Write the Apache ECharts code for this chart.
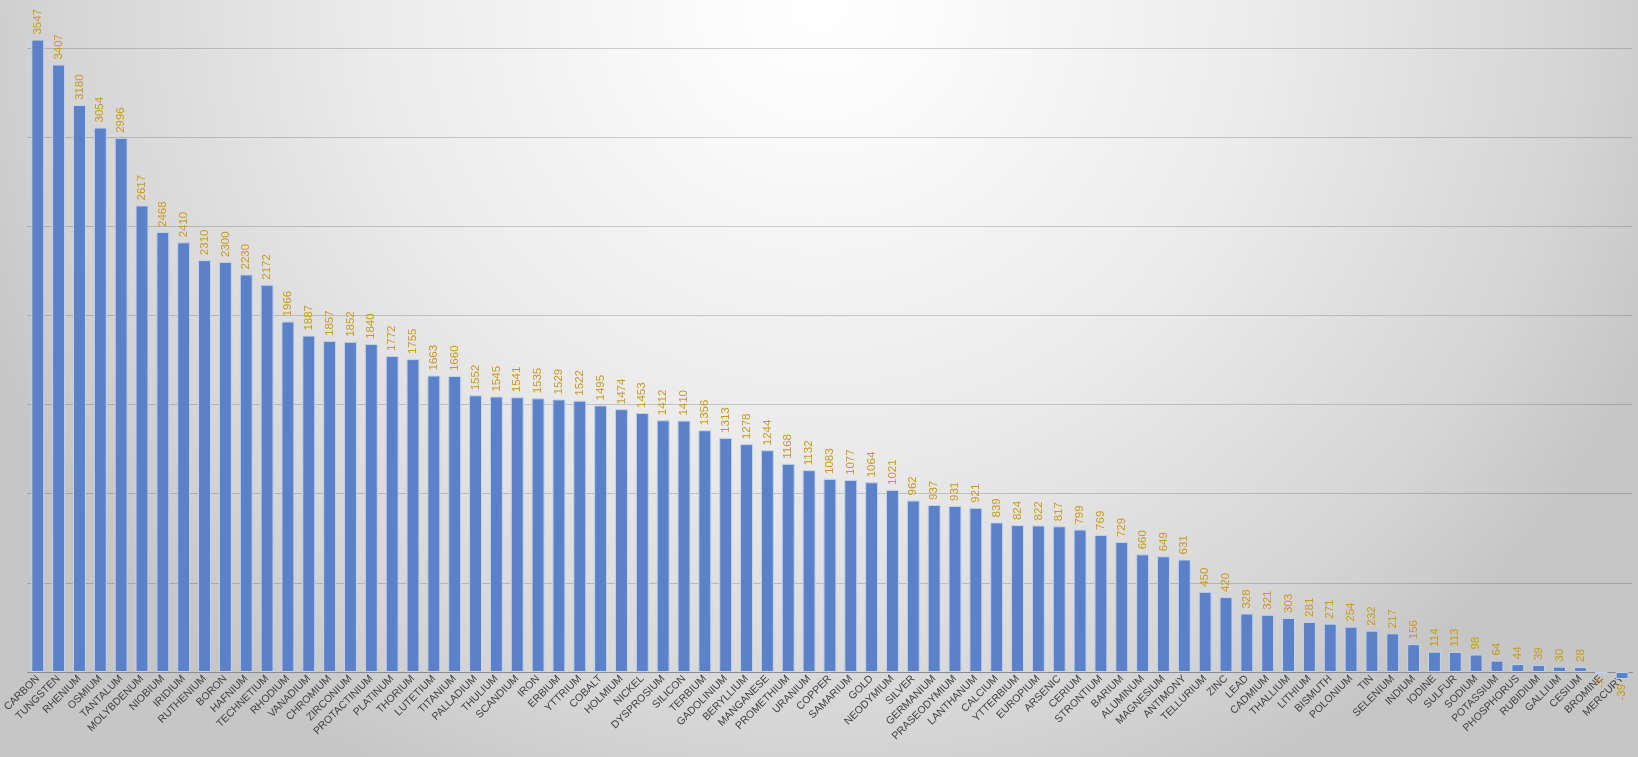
<!DOCTYPE html>
<html>
<head>
<meta charset="utf-8">
<script src="https://cdn.jsdelivr.net/npm/echarts@6/dist/echarts.min.js"></script>
<style>
  html, body { margin: 0; padding: 0; }
  #chart {
    width: 1638px; height: 757px;
    background: radial-gradient(ellipse 900px 880px at 50% 0%, #ffffff 0%, #fbfbfb 13%, #ebebeb 50%, #d5d5d5 84%, #c6c6c6 100%);
  }
</style>
</head>
<body>
<div id="chart"></div>
<script>
var elements = ['CARBON', 'TUNGSTEN', 'RHENIUM', 'OSMIUM', 'TANTALUM', 'MOLYBDENUM', 'NIOBIUM', 'IRIDIUM', 'RUTHENIUM', 'BORON',
  'HAFNIUM', 'TECHNETIUM', 'RHODIUM', 'VANADIUM', 'CHROMIUM', 'ZIRCONIUM', 'PROTACTINIUM', 'PLATINUM', 'THORIUM', 'LUTETIUM',
  'TITANIUM', 'PALLADIUM', 'THULIUM', 'SCANDIUM', 'IRON', 'ERBIUM', 'YTTRIUM', 'COBALT', 'HOLMIUM', 'NICKEL',
  'DYSPROSIUM', 'SILICON', 'TERBIUM', 'GADOLINIUM', 'BERYLLIUM', 'MANGANESE', 'PROMETHIUM', 'URANIUM', 'COPPER', 'SAMARIUM',
  'GOLD', 'NEODYMIUM', 'SILVER', 'GERMANIUM', 'PRASEODYMIUM', 'LANTHANUM', 'CALCIUM', 'YTTERBIUM', 'EUROPIUM', 'ARSENIC',
  'CERIUM', 'STRONTIUM', 'BARIUM', 'ALUMINUM', 'MAGNESIUM', 'ANTIMONY', 'TELLURIUM', 'ZINC', 'LEAD', 'CADMIUM',
  'THALLIUM', 'LITHIUM', 'BISMUTH', 'POLONIUM', 'TIN', 'SELENIUM', 'INDIUM', 'IODINE', 'SULFUR', 'SODIUM',
  'POTASSIUM', 'PHOSPHORUS', 'RUBIDIUM', 'GALLIUM', 'CESIUM', 'BROMINE', 'MERCURY'];

var meltingPoints = [3547, 3407, 3180, 3054, 2996, 2617, 2468, 2410, 2310, 2300,
  2230, 2172, 1966, 1887, 1857, 1852, 1840, 1772, 1755, 1663,
  1660, 1552, 1545, 1541, 1535, 1529, 1522, 1495, 1474, 1453,
  1412, 1410, 1356, 1313, 1278, 1244, 1168, 1132, 1083, 1077,
  1064, 1021, 962, 937, 931, 921, 839, 824, 822, 817,
  799, 769, 729, 660, 649, 631, 450, 420, 328, 321,
  303, 281, 271, 254, 232, 217, 156, 114, 113, 98,
  64, 44, 39, 30, 28, -7, -39];

var yTicks = { min: 0, max: 3500, interval: 500 };

var chart = echarts.init(document.getElementById('chart'), null, { renderer: 'canvas' });

// negative values get their label under the bar
var barData = meltingPoints.map(function(v) {
  if (v < 0) {
    return { value: v, label: { position: 'bottom', align: 'right' } };
  }
  return v;
});

chart.setOption({
  animation: false,
  backgroundColor: 'transparent',
  grid: { left: 26.5, right: 5.5, top: 48, bottom: 85, containLabel: false },
  xAxis: {
    type: 'category',
    data: elements,
    axisLine: { show: true, lineStyle: { color: '#8c8c8c', width: 1 } },
    axisTick: { show: false },
    axisLabel: {
      interval: 0,
      rotate: 45,
      color: '#404040',
      fontSize: 10.5,
      fontFamily: 'Liberation Sans',
      margin: 5
    }
  },
  yAxis: {
    type: 'value',
    min: yTicks.min,
    max: yTicks.max,
    interval: yTicks.interval,
    axisLine: { show: false },
    axisTick: { show: false },
    axisLabel: { show: false },
    splitLine: { lineStyle: { color: 'rgba(0,0,0,0.17)', width: 1 } }
  },
  series: [{
    type: 'bar',
    data: barData,
    clip: false,
    barCategoryGap: '38%',
    itemStyle: { color: '#5b82c8', borderColor: '#c3d3ee', borderWidth: 1 },
    label: {
      show: true,
      position: 'top',
      rotate: 90,
      align: 'left',
      verticalAlign: 'middle',
      distance: 5,
      color: '#c99a1c',
      fontSize: 11.5,
      fontFamily: 'Liberation Sans'
    }
  }]
});
window.addEventListener('resize', function() { chart.resize(); });
</script>
</body>
</html>
